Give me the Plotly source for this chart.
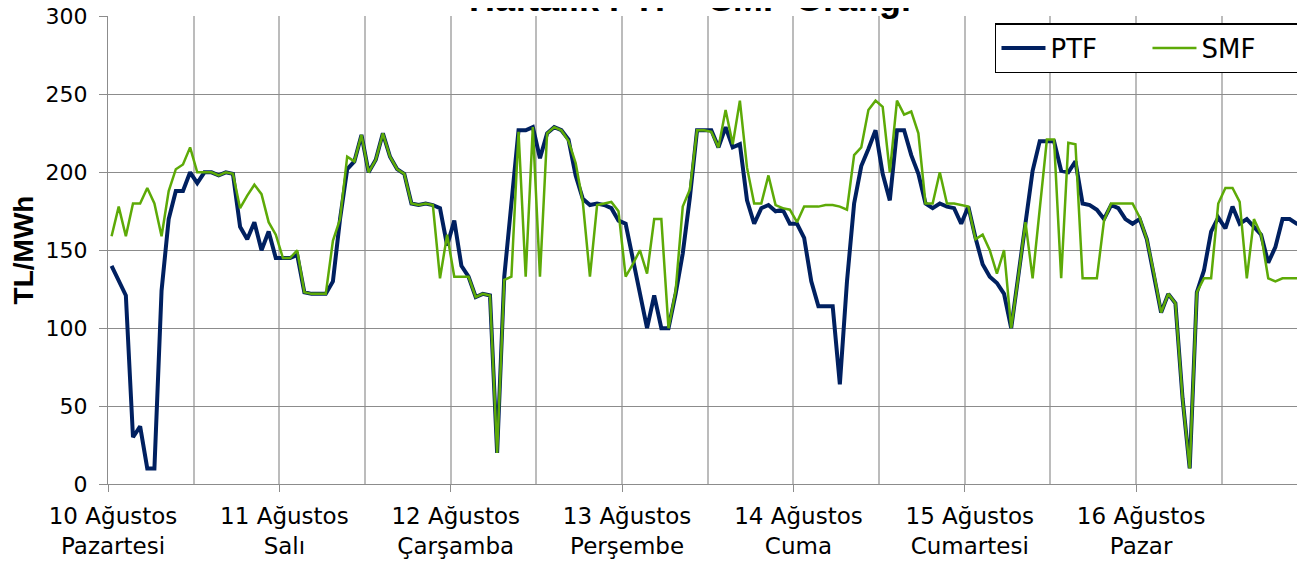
import plotly.graph_objects as go

# ---- data (hourly, 10-16 Ağustos) ----
day_labels = ["10 Ağustos<br>Pazartesi", "11 Ağustos<br>Salı", "12 Ağustos<br>Çarşamba",
              "13 Ağustos<br>Perşembe", "14 Ağustos<br>Cuma", "15 Ağustos<br>Cumartesi",
              "16 Ağustos<br>Pazar"]

ptf = [
    140, 130, 121, 30, 37, 10, 10, 124, 170, 188, 188, 200, 193, 200, 200, 198, 200, 199, 165, 157, 168, 150, 162, 145,
    145, 145, 147, 123, 122, 122, 122, 130, 170, 202, 207, 224, 200, 208, 225, 210, 202, 199, 180, 179, 180, 179, 177, 153,
    169, 140, 133, 120, 122, 121, 20, 133, 180, 227, 227, 229, 209, 225, 229, 227, 221, 198, 183, 179, 180, 179, 177, 169,
    167, 145, 122, 100, 121, 100, 100, 122, 148, 184, 227, 227, 227, 216, 229, 216, 218, 182, 167, 177, 179, 175, 176, 167,
    167, 158, 130, 114, 114, 114, 64, 130, 180, 204, 215, 227, 199, 182, 227, 227, 211, 199, 180, 177, 180, 178, 177, 167,
    178, 158, 141, 133, 129, 122, 100, 133, 169, 201, 220, 220, 220, 201, 200, 207, 180, 179, 176, 170, 179, 177, 170, 167,
    170, 157, 135, 110, 122, 116, 55, 10, 123, 137, 162, 171, 164, 178, 167, 170, 165, 160, 142, 152, 170, 170, 167, 167,
]

smf = [
    159, 178, 159, 180, 180, 190, 180, 159, 188, 202, 205, 216, 200, 200, 200, 198, 200, 199, 177, 185, 192, 186, 168, 160,
    145, 145, 150, 123, 122, 122, 122, 156, 170, 210, 207, 224, 200, 208, 225, 210, 202, 199, 180, 179, 180, 179, 132, 160,
    133, 133, 133, 120, 122, 121, 20, 131, 133, 226, 133, 229, 133, 225, 229, 227, 220, 206, 181, 133, 179, 180, 181, 175,
    133, 141, 150, 135, 170, 170, 100, 124, 178, 189, 227, 227, 226, 216, 240, 218, 246, 203, 180, 180, 198, 179, 177, 176,
    168, 178, 178, 178, 179, 179, 178, 176, 211, 216, 240, 246, 242, 200, 246, 237, 239, 225, 180, 180, 200, 180, 180, 179,
    178, 157, 160, 150, 135, 150, 100, 133, 168, 132, 178, 221, 221, 132, 219, 218, 132, 132, 132, 169, 180, 180, 180, 180,
    171, 157, 135, 110, 122, 116, 55, 10, 123, 132, 132, 180, 190, 190, 181, 132, 170, 160, 132, 130, 132, 132, 132, 132,
]

hours = list(range(len(ptf)))
day_starts = [-0.5 + 24 * k for k in range(len(day_labels))]
half_days = [-0.5 + 12 * k for k in range(15)]
y_ticks = [0, 50, 100, 150, 200, 250, 300]

fig = go.Figure()
fig.add_trace(go.Scatter(x=hours, y=ptf, mode="lines", name="PTF",
                         line=dict(color="#002060", width=4)))
fig.add_trace(go.Scatter(x=hours, y=smf, mode="lines", name="SMF",
                         line=dict(color="#5DAA07", width=2.5)))

tick_font = dict(family="DejaVu Sans", size=22, color="#000000")

# the page body adds an 8px offset, so the figure is 8px smaller than the window
fig.update_layout(
    width=1297, height=558, autosize=False,
    margin=dict(l=100, r=0, t=8, b=82, autoexpand=False),
    paper_bgcolor="white", plot_bgcolor="white",
    showlegend=True,
    legend=dict(orientation="h", x=0.741, y=0.985, xanchor="left", yanchor="top",
                bgcolor="white", bordercolor="#000000", borderwidth=1.5,
                font=dict(family="DejaVu Sans", size=26, color="#000000"),
                entrywidth=92, itemwidth=44),
    xaxis=dict(range=[-0.5, 167.15], tickmode="array", tickvals=day_starts, ticktext=day_labels,
               showgrid=True, gridcolor="#bcbcbc", gridwidth=1.5, automargin=False,
               minor=dict(tickvals=half_days, showgrid=True, gridcolor="#bcbcbc", gridwidth=1.5, ticks=""),
               ticks="outside", ticklen=7, tickcolor="#8c8c8c", tickwidth=1.3,
               showline=True, linecolor="#8c8c8c", linewidth=1.3,
               zeroline=False, tickfont=dict(family="DejaVu Sans", size=23, color="#000000"),
               ticklabelshift=5, ticklabelstandoff=4),
    yaxis=dict(range=[0, 300.3], tickmode="array", tickvals=y_ticks, automargin=False,
               showgrid=True, gridcolor="#8c8c8c", gridwidth=1.3,
               ticks="outside", ticklen=8, tickcolor="#8c8c8c", tickwidth=1.3,
               showline=True, linecolor="#8c8c8c", linewidth=1.3,
               zeroline=False, tickfont=tick_font, ticklabelstandoff=7,
               ticklabeloverflow="allow",
               title=dict(text="<b>TL/MWh</b>", font=dict(family="Liberation Sans", size=28, color="#000000"),
                          standoff=18)),
    annotations=[dict(text="<b>Haftalık PTF - SMF Grafiği</b>", xref="paper", yref="paper",
                      x=0.486, y=0.9885, xanchor="center", yanchor="bottom", showarrow=False,
                      font=dict(family="Liberation Sans", size=36, color="#000000"))],
)

fig.write_html("out.html")
